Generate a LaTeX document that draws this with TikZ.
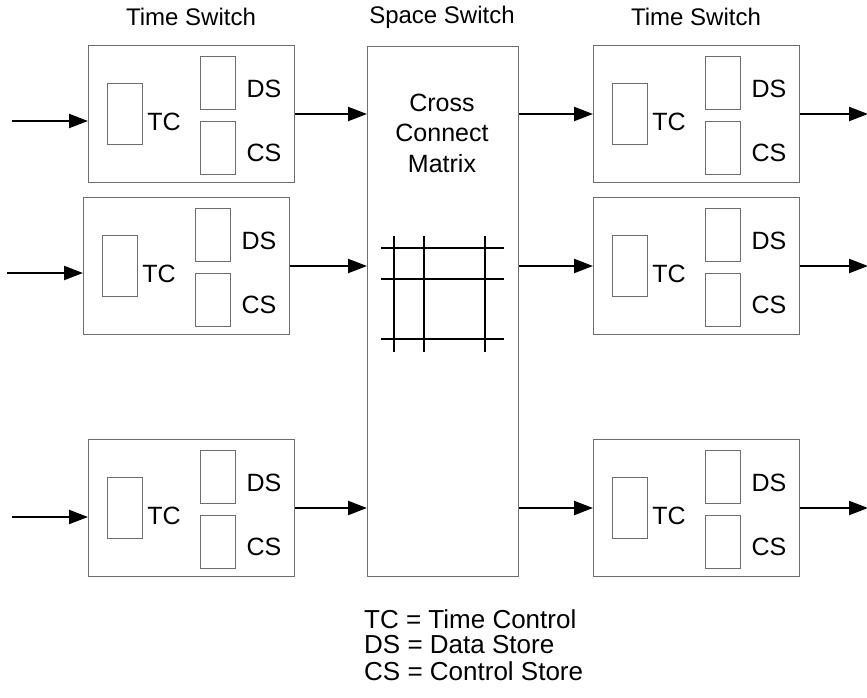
\documentclass[tikz,border=0pt]{standalone}
\usepackage{fontspec}
\setmainfont{Liberation Sans}
\usetikzlibrary{arrows.meta, positioning, calc}
\definecolor{boxgray}{RGB}{110,110,110}

\tikzset{
  swbox/.style={rectangle,draw=boxgray,line width=1pt,minimum width=206pt,minimum height=137pt,inner sep=0pt,anchor=north west},
  tcbox/.style={rectangle,draw=boxgray,line width=0.8pt,minimum width=35pt,minimum height=61pt,inner sep=0pt,anchor=north west},
  storebox/.style={rectangle,draw=boxgray,line width=0.8pt,minimum width=35pt,minimum height=53pt,inner sep=0pt,anchor=north west},
  lbl/.style={font=\fontsize{25}{30.5}\selectfont,inner sep=0pt},
  flow/.style={line width=2.2pt,-{Triangle[length=19pt,width=14pt]}},
  xline/.style={line width=2.5pt}
}

\begin{document}
\begin{tikzpicture}[x=1pt,y=-1pt]
    \useasboundingbox (0,0) rectangle (867,698);

    % Titoli delle colonne
    \node[font=\fontsize{24}{28}\selectfont] (title1) at (191,17) {Time Switch};
    \node[font=\fontsize{24}{28}\selectfont] (title2) at (442,17) {Space Switch};
    \node[font=\fontsize{24}{28}\selectfont] (title3) at (696,17) {Time Switch};

    % Commutatori temporali
    \foreach \n/\x/\y in {L1/88/45, L2/83/197, L3/88/439, R1/593/45, R2/593/197, R3/593/439} {
        \node[swbox] (\n) at (\x,\y) {};
        \node[tcbox] (\n-tc) at (\x+19,\y+38) {};
        \node[storebox] (\n-ds) at (\x+112,\y+11) {};
        \node[storebox] (\n-cs) at (\x+112,\y+76) {};
        \node[lbl] (\n-tcl) at (\x+76,\y+77) {TC};
        \node[lbl] (\n-dsl) at (\x+176,\y+43.5) {DS};
        \node[lbl] (\n-csl) at (\x+176,\y+107.5) {CS};
    }

    % Commutatore spaziale
    \node[rectangle,draw=boxgray,line width=1pt,minimum width=151pt,minimum height=530pt,inner sep=0pt,anchor=north west] (space) at (367,46) {};
    \node[lbl,align=center] (matrixlbl) at (442,133) {Cross\\Connect\\Matrix};

    % Matrice
    \foreach \gx in {394,424,485}
        \draw[xline] (\gx,236) -- (\gx,352);
    \foreach \gy in {248,279,339}
        \draw[xline] (381,\gy) -- (504,\gy);

    % Ingressi e uscite
    \coordinate (in1) at (12,121);
    \coordinate (in2) at (7,273);
    \coordinate (in3) at (12,517);
    \coordinate (out) at (868,0);

    \draw[flow] (in1) -- (in1 -| L1.west);
    \draw[flow] (in2) -- (in2 -| L2.west);
    \draw[flow] (in3) -- (in3 -| L3.west);

    % Connessioni
    \foreach \i in {1,2,3} {
        \draw[flow] (L\i.east) -- (L\i.east -| space.west);
        \draw[flow] (space.east |- R\i.west) -- (R\i.west);
        \draw[flow] (R\i.east) -- (R\i.east -| out);
    }

    % Legenda
    \node[font=\fontsize{26}{26}\selectfont,anchor=base west,inner sep=0pt] (leg1) at (364,628) {TC = Time Control};
    \node[font=\fontsize{26}{26}\selectfont,anchor=base west,inner sep=0pt] (leg2) at (364,653) {DS = Data Store};
    \node[font=\fontsize{26}{26}\selectfont,anchor=base west,inner sep=0pt] (leg3) at (364,680) {CS = Control Store};
\end{tikzpicture}
\end{document}
